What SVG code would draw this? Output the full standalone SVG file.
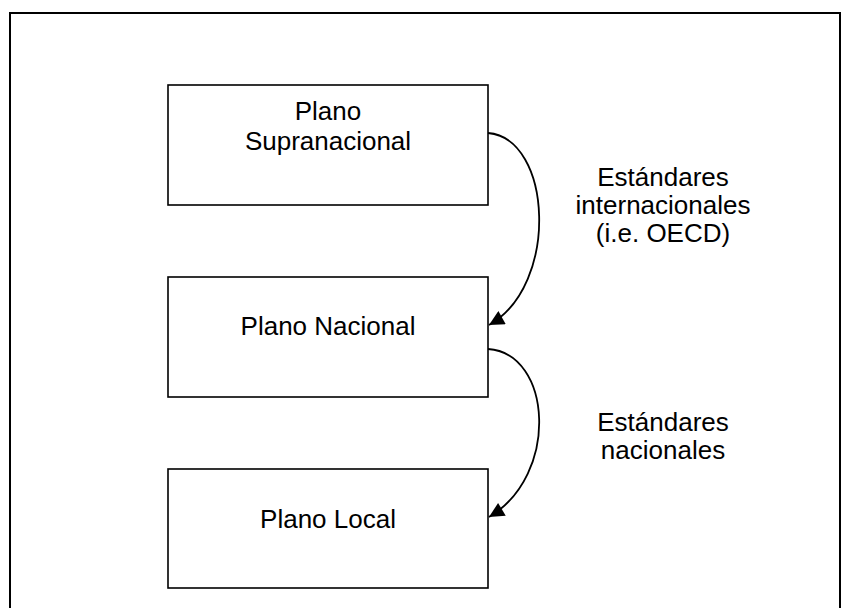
<svg xmlns="http://www.w3.org/2000/svg" width="841" height="608" viewBox="0 0 841 608">
  <style>
    .box { fill: #ffffff; stroke: #000000; stroke-width: 1.6; }
    .lbl { font-family: "Liberation Sans", Arial, sans-serif; font-size: 26px; fill: #000000; text-anchor: middle; }
    .conn { fill: none; stroke: #000000; stroke-width: 1.8; }
  </style>
  <defs>
    <marker id="arrow" viewBox="0 0 10 10" refX="10" refY="5" markerWidth="19" markerHeight="15" markerUnits="userSpaceOnUse" orient="auto">
      <path d="M0,0 L10,5 L0,10 Z" fill="#000000"/>
    </marker>
  </defs>
  <rect x="10" y="13" width="830" height="700" fill="#ffffff" stroke="#000000" stroke-width="2"/>
  <g id="node-supranacional">
    <rect class="box" x="168" y="85" width="320" height="120"/>
    <text class="lbl" x="328" y="120">Plano</text>
    <text class="lbl" x="328" y="150">Supranacional</text>
  </g>
  <g id="node-nacional">
    <rect class="box" x="168" y="277" width="320" height="120"/>
    <text class="lbl" x="328" y="335">Plano Nacional</text>
  </g>
  <g id="node-local">
    <rect class="box" x="168" y="469" width="320" height="119"/>
    <text class="lbl" x="328" y="528">Plano Local</text>
  </g>
  <g id="connectors">
    <path class="conn" d="M488,133 C552,138 560,285 489,325" marker-end="url(#arrow)"/>
    <path class="conn" d="M488,349 C552,353 560,475 489,517" marker-end="url(#arrow)"/>
  </g>
  <g id="label-internacionales">
    <text class="lbl" x="663" y="186">Estándares</text>
    <text class="lbl" x="663" y="214">internacionales</text>
    <text class="lbl" x="663" y="242">(i.e. OECD)</text>
  </g>
  <g id="label-nacionales">
    <text class="lbl" x="663" y="431">Estándares</text>
    <text class="lbl" x="663" y="459">nacionales</text>
  </g>
</svg>
